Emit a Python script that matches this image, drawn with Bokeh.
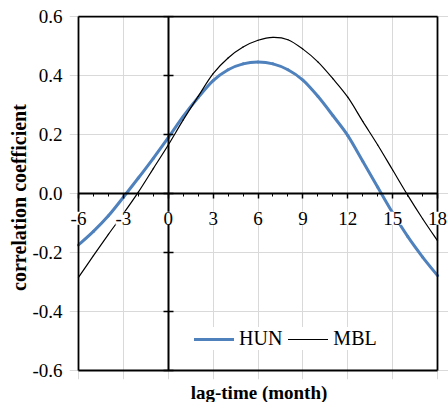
from bokeh.plotting import figure
from bokeh.models import (FixedTicker, LinearAxis, Range1d, Title, Legend,
                          LegendItem, PrintfTickFormatter, LabelSet, ColumnDataSource)
from bokeh.embed import file_html
from bokeh.resources import INLINE

# ---- data ----
MONTHS = [-6, -5, -4, -3, -2, -1, 0, 1, 2, 3, 4, 5, 6, 7, 8, 9, 10, 11, 12, 13, 14, 15, 16, 17, 18]
HUN = [-0.174, -0.128, -0.075, -0.012, 0.053, 0.120, 0.190, 0.262, 0.326, 0.383, 0.420, 0.440, 0.446,
       0.440, 0.420, 0.385, 0.330, 0.265, 0.197, 0.110, 0.022, -0.065, -0.145, -0.215, -0.278]
MBL = [-0.284, -0.210, -0.138, -0.068, 0.005, 0.085, 0.165, 0.250, 0.330, 0.407, 0.460, 0.497, 0.520,
       0.530, 0.522, 0.490, 0.447, 0.390, 0.327, 0.245, 0.165, 0.080, -0.005, -0.085, -0.160]
SERIES = ["HUN", "MBL"]
X_TICKS = [-6, -3, 0, 3, 6, 9, 12, 15, 18]
X_TICK_LABELS = ["-6", "-3", "0", "3", "6", "9", "12", "15", "18"]
X_MINOR = [-6, -5, -4, -3, -2, -1, 0, 1, 2, 3, 4, 5, 6, 7, 8, 9, 10, 11, 12, 13, 14, 15, 16, 17, 18]
Y_TICKS = [-0.6, -0.4, -0.2, 0.0, 0.2, 0.4, 0.6]
X_LABEL = "lag-time (month)"
Y_LABEL = "correlation coefficient"

FONT = "Liberation Serif"
BLUE = "#4F81BD"
GRID = "#d9d9d9"
X0, X1 = X_TICKS[0], X_TICKS[-1]
Y0, Y1 = Y_TICKS[0], Y_TICKS[-1]


def smooth_segments(xs, ys):
    """Bezier control points through the data points (Excel-style smoothed line)."""
    n = len(xs)
    d = dict(x0=[], y0=[], x1=[], y1=[], cx0=[], cy0=[], cx1=[], cy1=[])
    for i in range(n - 1):
        ip, inn = max(i - 1, 0), min(i + 2, n - 1)
        d["x0"].append(xs[i]); d["y0"].append(ys[i])
        d["x1"].append(xs[i + 1]); d["y1"].append(ys[i + 1])
        d["cx0"].append(xs[i] + (xs[i + 1] - xs[ip]) / 6)
        d["cy0"].append(ys[i] + (ys[i + 1] - ys[ip]) / 6)
        d["cx1"].append(xs[i + 1] - (xs[inn] - xs[i]) / 6)
        d["cy1"].append(ys[i + 1] - (ys[inn] - ys[i]) / 6)
    return ColumnDataSource(d)


# the frame is a little larger than the data box so the end tick labels are not clipped
p = figure(width=448, height=402, x_range=Range1d(X0 - 0.6, X1 + 0.73),
           y_range=Range1d(Y0 - 0.030, Y1 + 0.004),
           output_backend="svg", toolbar_location=None,
           min_border_left=69, min_border_right=0, min_border_top=15, min_border_bottom=23)
p.background_fill_color = "white"
p.border_fill_color = "white"
p.outline_line_color = None

# keep references to the default axes before any other axis is added
xa = p.below[0]
ya = p.left[0]

# grids
p.xgrid.ticker = FixedTicker(ticks=X_TICKS)
p.ygrid.ticker = FixedTicker(ticks=Y_TICKS)
p.ygrid.bounds = (X0, X1)
p.xgrid.bounds = (Y0, Y1)
for g in (p.xgrid, p.ygrid):
    g.grid_line_color = GRID
    g.grid_line_width = 1

# curves
bez = dict(x0="x0", y0="y0", x1="x1", y1="y1", cx0="cx0", cy0="cy0", cx1="cx1", cy1="cy1")
r_hun = p.bezier(source=smooth_segments(MONTHS, HUN), line_color=BLUE, line_width=3,
                 line_cap="round", **bez)
r_mbl = p.bezier(source=smooth_segments(MONTHS, MBL), line_color="black", line_width=1.2,
                 line_cap="round", **bez)

# x axis crossing at y = 0 (line and ticks; labels drawn by a LabelSet with white boxes)
xa.fixed_location = 0
xa.bounds = (X0, X1)
xa.ticker = FixedTicker(ticks=X_TICKS, minor_ticks=X_MINOR)
xa.formatter = PrintfTickFormatter(format="%d")
xa.axis_line_width = 2
xa.axis_line_color = "black"
xa.major_tick_out = 5
xa.major_tick_in = 0
xa.minor_tick_out = 3
xa.minor_tick_in = 0
xa.major_tick_line_color = "black"
xa.minor_tick_line_color = "black"
xa.major_tick_line_width = 1.5
xa.minor_tick_line_width = 1
xa.major_label_text_color = None

xsrc = ColumnDataSource(dict(x=X_TICKS, y=[0] * len(X_TICKS), text=X_TICK_LABELS))
p.add_layout(LabelSet(x="x", y="y", text="text", source=xsrc, y_offset=-18,
                      text_align="center", text_baseline="top",
                      text_font=FONT, text_font_size="19px", text_color="black",
                      background_fill_color="white", background_fill_alpha=1.0))

# left axis: labels at the data-box edge
ya.ticker = FixedTicker(ticks=Y_TICKS)
ya.formatter = PrintfTickFormatter(format="%.1f")
ya.axis_line_color = None
ya.major_tick_out = 0
ya.major_tick_in = 0
ya.minor_tick_out = 0
ya.minor_tick_in = 0
ya.major_label_standoff = 7
ya.major_label_text_font = FONT
ya.major_label_text_font_size = "19px"
ya.major_label_text_color = "black"

# y axis crossing at x = 0
y0 = LinearAxis(fixed_location=0, ticker=FixedTicker(ticks=Y_TICKS), bounds=(Y0, Y1),
                axis_line_color="black", axis_line_width=2,
                major_tick_in=5, major_tick_out=5, major_tick_line_color="black",
                major_tick_line_width=1.5, minor_tick_in=0, minor_tick_out=0,
                major_label_text_color=None)
p.add_layout(y0, "left")


# plot-area border: four bare axis lines on the data box edges
def border_axis(loc, bounds, ticks):
    return LinearAxis(fixed_location=loc, bounds=bounds, ticker=FixedTicker(ticks=ticks),
                      axis_line_color="black", axis_line_width=1.8,
                      major_tick_in=0, major_tick_out=0, minor_tick_in=0, minor_tick_out=0,
                      major_label_text_color=None)


p.add_layout(border_axis(X0, (Y0, Y1), Y_TICKS), "left")
p.add_layout(border_axis(X1, (Y0, Y1), Y_TICKS), "right")
p.add_layout(border_axis(Y1, (X0, X1), X_TICKS), "above")
p.add_layout(border_axis(Y0, (X0, X1), X_TICKS), "below")

# axis titles
p.add_layout(Title(text=Y_LABEL, align="center", offset=11, text_font=FONT,
                   text_font_size="20px", text_font_style="bold", text_color="black",
                   standoff=0), "left")
p.add_layout(Title(text=X_LABEL, align="center", offset=-22, text_font=FONT,
                   text_font_size="19px", text_font_style="bold", text_color="black",
                   standoff=0), "below")

legend = Legend(items=[LegendItem(label=SERIES[0], renderers=[r_hun]),
                       LegendItem(label=SERIES[1], renderers=[r_mbl])],
                location=(125, 29), orientation="horizontal",
                padding=7, margin=0, spacing=6, label_standoff=5,
                glyph_width=40, glyph_height=20, label_height=20,
                label_text_font=FONT, label_text_font_size="20px", label_text_color="black",
                background_fill_color="white", background_fill_alpha=1.0,
                border_line_color=None)
p.add_layout(legend)

open("out.html", "w").write(file_html(p, INLINE))
